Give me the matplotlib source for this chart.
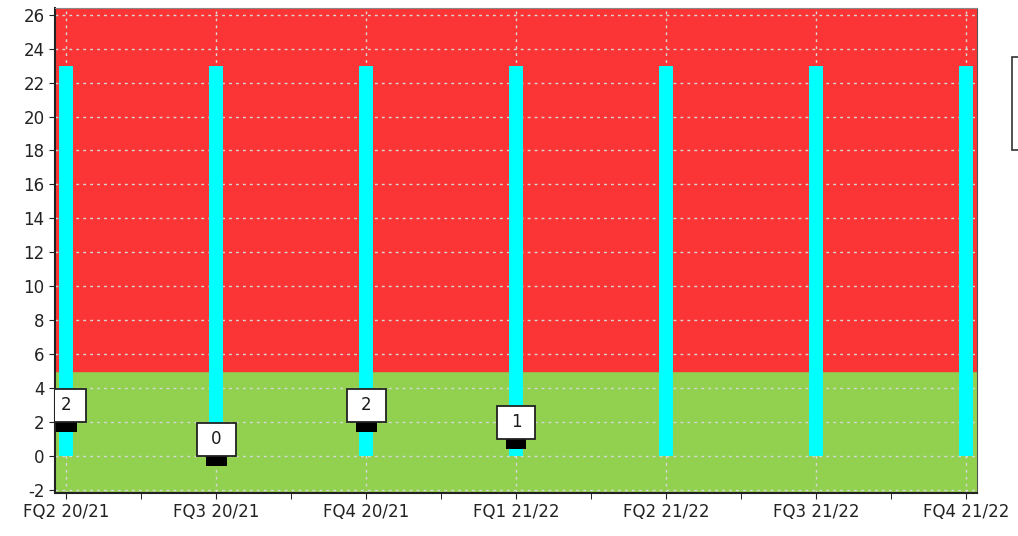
import numpy as np
import matplotlib
matplotlib.use("Agg")
import matplotlib.pyplot as plt
from matplotlib.patches import Rectangle

plt.rcParams["axes.unicode_minus"] = False

# ── Data ─────────────────────────────────────────────────────────────────
quarters = ["FQ2 20/21", "FQ3 20/21", "FQ4 20/21", "FQ1 21/22",
            "FQ2 21/22", "FQ3 21/22", "FQ4 21/22"]
target_top = [23, 23, 23, 23, 23, 23, 23]
actual = [2, 0, 2, 1]
green_limit = 5
y_ticks = list(range(-2, 27, 2))

RED = "#fb3535"
GREEN = "#92d050"
CYAN = "#00ffff"

fig = plt.figure(figsize=(10.18, 5.36), dpi=100)
ax = fig.add_axes([55 / 1018, 1 - 493 / 536, 922 / 1018, 485 / 536])

x = np.arange(len(quarters))
ax.set_xlim(-0.075, len(quarters) - 1 + 0.075)
ax.set_ylim(-2.2, 26.4)

# background bands
ax.axhspan(-2.2, green_limit, color=GREEN, zorder=0)
ax.axhspan(green_limit, 26.4, color=RED, zorder=0)

ax.set_yticks(y_ticks)
ax.set_xticks(x)
ax.set_xticklabels(quarters)
ax.set_xticks(x[:-1] + 0.5, minor=True)
ax.grid(True, which="major", color="#d8d8d8", linestyle=(0, (2, 3)),
        linewidth=1, zorder=1)

# cyan range bars
ax.bar(x, target_top, width=0.09, color=CYAN, zorder=2)

# actual markers with value boxes
xa = x[:len(actual)]
ax.bar(xa, [-0.6] * len(actual), bottom=actual, width=0.14,
       color="black", zorder=3)
box_w, box_h = 0.26, 1.95
for xi, v in zip(xa, actual):
    ax.add_patch(Rectangle((xi - box_w / 2, v), box_w, box_h,
                           facecolor="white", edgecolor="#222222",
                           linewidth=1.3, zorder=4))
    ax.text(xi, v + box_h / 2, str(v), ha="center", va="center",
            fontsize=12, color="#1a1a1a", zorder=5)

for s in ["left", "bottom"]:
    ax.spines[s].set_color("#222222")
    ax.spines[s].set_linewidth(1.5)
ax.spines["top"].set_color("#888888")
ax.spines["right"].set_color("#555555")
ax.tick_params(axis="both", labelsize=12, colors="#222222", length=4)
ax.tick_params(axis="x", which="minor", length=4)

# partially visible legend box
fig.patches.append(Rectangle((1012 / 1018, 1 - 150 / 536), 0.02, 93 / 536,
                             transform=fig.transFigure, facecolor="white",
                             edgecolor="#333333", linewidth=1.2))

fig.savefig("out.png", dpi=100)
